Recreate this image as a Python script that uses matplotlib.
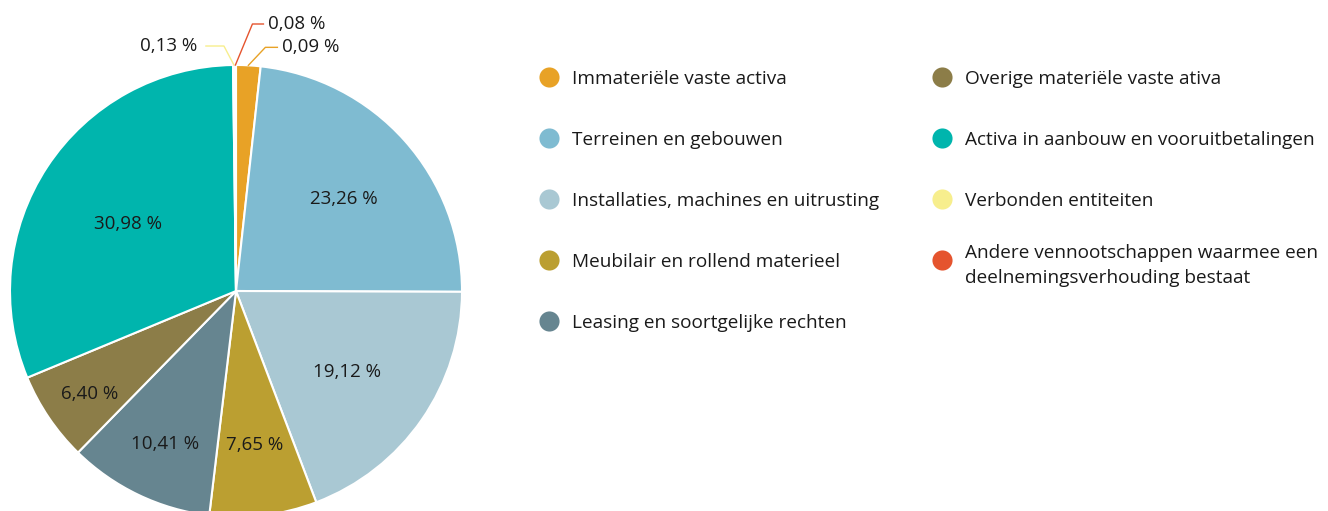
#Pie chart of the distribution of fixed assets (materiele / immateriele vaste activa)

import numpy as np
import matplotlib.pyplot as plt

plt.rcParams['font.family'] = ['Open Sans', 'DejaVu Sans']

# Data (clockwise from 12 o'clock)
categorieen = ['Immateriële vaste activa',
               'Terreinen en gebouwen',
               'Installaties, machines en uitrusting',
               'Meubilair en rollend materieel',
               'Leasing en soortgelijke rechten',
               'Overige materiële vaste ativa',
               'Activa in aanbouw en vooruitbetalingen',
               'Verbonden entiteiten',
               'Andere vennootschappen waarmee een\ndeelnemingsverhouding bestaat']
aandeel = [1.74, 23.26, 19.12, 7.65, 10.41, 6.40, 30.98, 0.13, 0.08]
labels = ['0,09 %', '23,26 %', '19,12 %', '7,65 %', '10,41 %', '6,40 %',
          '30,98 %', '0,13 %', '0,08 %']
kleuren = ['#E8A226', '#7FBBD1', '#A9C8D3', '#BB9F31', '#668590',
           '#8C7D48', '#00B5AD', '#F7EE8D', '#E5542E']

# layout (pixels)
W, H = 1328, 511
cx, cy, r = 236, H - 291, 226
label_afstand = {1: 0.64, 2: 0.60, 3: 0.67, 4: 0.73, 5: 0.78, 6: 0.57}
# small slices: elbow offset (dx, dy up), horizontal length, side, gap to text
kleine = {0: (17, 18, 12, 1, 5), 7: (-10, 19, 18, -1, 9), 8: (17, 41, 11, 1, 5)}

fig = plt.figure(figsize=(W / 100, H / 100), dpi=100)
ax = fig.add_axes([0, 0, 1, 1])

wedges, _ = ax.pie(aandeel, colors=kleuren, startangle=90, counterclock=False,
                   center=(cx, cy), radius=r,
                   wedgeprops=dict(edgecolor='white', linewidth=1.5))

for i, w in enumerate(wedges):
    hoek = np.deg2rad((w.theta1 + w.theta2) / 2)
    if i in label_afstand:
        d = label_afstand[i] * r
        ax.text(cx + d * np.cos(hoek), cy + d * np.sin(hoek) - 4, labels[i],
                ha='center', va='center', fontsize=13.5, color='#1a1a1a')
    else:
        dx, dy, lengte, kant, gat = kleine[i]
        x0 = cx + r * np.cos(hoek)
        y0 = cy + r * np.sin(hoek)
        x1, y1 = x0 + dx, y0 + dy
        x2 = x1 + lengte * kant
        ax.plot([x0, x1, x2], [y0, y1, y1], color=w.get_facecolor(), lw=1)
        ax.text(x2 + gat * kant, y1, labels[i], ha='left' if kant > 0 else 'right',
                va='center', fontsize=13.5, color='#1a1a1a')

# legend, two columns
for i, (naam, kleur) in enumerate(zip(categorieen, kleuren)):
    kol, rij = divmod(i, 5)
    x = 549 + kol * 393
    y = H - (77 + rij * 61)
    ax.scatter([x], [y], s=210, color=kleur, linewidths=0)
    ax.text(x + 23, y, naam, ha='left', va='center_baseline', fontsize=13.7,
            color='#1a1a1a', linespacing=1.5)

ax.set_xlim(0, W)
ax.set_ylim(0, H)
ax.set_aspect('equal')
ax.axis('off')

plt.savefig('out.png', dpi=100)
